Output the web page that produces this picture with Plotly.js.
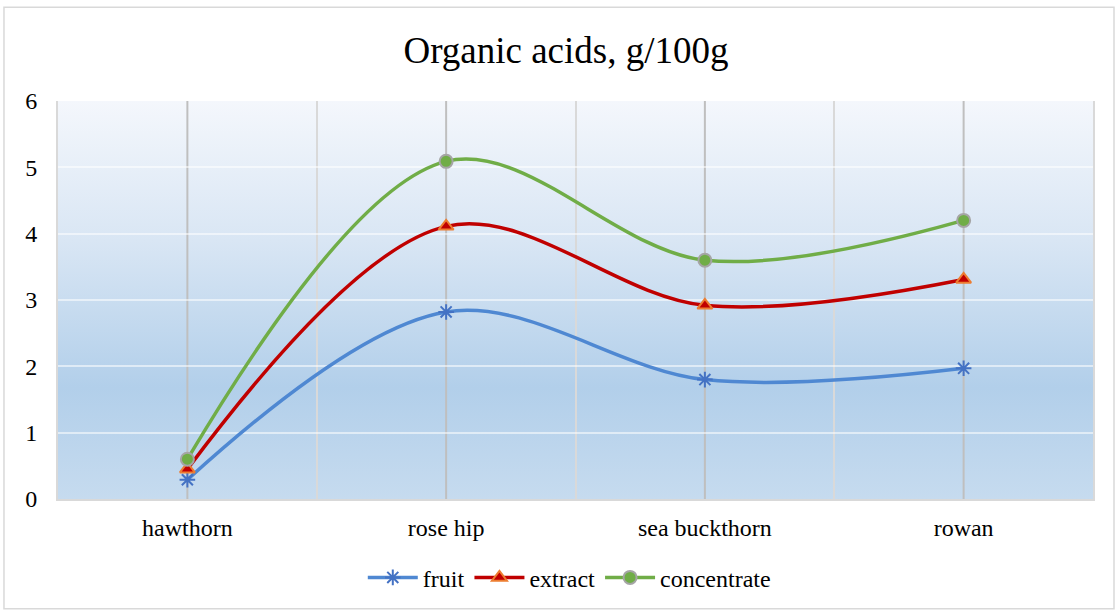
<!DOCTYPE html>
<html>
<head>
<meta charset="utf-8">
<script src="https://cdn.plot.ly/plotly-3.0.1.min.js"></script>
<style>
  html, body { margin: 0; padding: 0; background: #ffffff; }
  #chart { width: 1115px; height: 611px; }
</style>
</head>
<body>
<div id="chart"></div>
<script>
// Organic acid content per raw material, g/100g
const categories = ["hawthorn", "rose hip", "sea buckthorn", "rowan"];
const fruit       = [0.29, 2.82, 1.80, 1.97];
const extract     = [0.45, 4.11, 2.92, 3.31];
const concentrate = [0.60, 5.09, 3.60, 4.20];
const yTicks = [0, 1, 2, 3, 4, 5, 6];

const serif = "Liberation Serif, Times New Roman, serif";

// Vertical gradient used as the plot-area fill
const bgSvg =
  '<svg xmlns="http://www.w3.org/2000/svg" width="100" height="100" preserveAspectRatio="none">' +
  '<defs><linearGradient id="g" x1="0" y1="0" x2="0" y2="1">' +
  '<stop offset="0" stop-color="#f4f7fc"/>' +
  '<stop offset="0.35" stop-color="#d9e6f4"/>' +
  '<stop offset="0.72" stop-color="#b2cfea"/>' +
  '<stop offset="1" stop-color="#c6dbef"/>' +
  '</linearGradient></defs>' +
  '<rect width="100" height="100" fill="url(#g)"/></svg>';
const bgUri = "data:image/svg+xml;charset=utf-8," + encodeURIComponent(bgSvg);

const traces = [
  {
    name: "fruit", x: categories, y: fruit, type: "scatter", mode: "lines+markers",
    line: { color: "#4f88d2", width: 3.5, shape: "spline", smoothing: 1 },
    marker: { symbol: "asterisk-open", size: 13, color: "#4472c4",
              line: { color: "#4472c4", width: 2 } }
  },
  {
    name: "extract", x: categories, y: extract, type: "scatter", mode: "lines+markers",
    line: { color: "#c00000", width: 3.5, shape: "spline", smoothing: 1 },
    marker: { symbol: "triangle-up", size: 13, color: "#c00000",
              line: { color: "#ed7d31", width: 2 } }
  },
  {
    name: "concentrate", x: categories, y: concentrate, type: "scatter", mode: "lines+markers",
    line: { color: "#70ad47", width: 3.5, shape: "spline", smoothing: 1 },
    marker: { symbol: "circle", size: 13, color: "#70ad47",
              line: { color: "#a5a5a5", width: 2 } }
  }
];

// Darker vertical rules through each category centre
const centreLines = categories.map(c => ({
  type: "line", layer: "below", xref: "x", yref: "y domain",
  x0: c, x1: c, y0: 0, y1: 1,
  line: { color: "#bfbfbf", width: 2 }
}));

const layout = {
  width: 1115, height: 611,
  margin: { l: 58, r: 22, t: 101, b: 111 },
  paper_bgcolor: "#ffffff",
  plot_bgcolor: "rgba(0,0,0,0)",
  font: { family: serif, color: "#000000" },
  title: {
    text: "Organic acids, g/100g",
    font: { family: serif, size: 37, color: "#000000" },
    x: 0.5076, xref: "container", xanchor: "center",
    y: 0.918, yref: "container", yanchor: "middle"
  },
  xaxis: {
    type: "category",
    categoryorder: "array", categoryarray: categories,
    range: [-0.5, 3.5],
    tickson: "boundaries",
    showgrid: true, gridcolor: "#d9d9d9", gridwidth: 2,
    showline: true, linecolor: "#d9d9d9", linewidth: 2,
    ticks: "", ticklabelstandoff: 6,
    tickfont: { family: serif, size: 24, color: "#000000" },
    zeroline: false, fixedrange: true
  },
  yaxis: {
    range: [0, 6],
    tickvals: yTicks,
    ticktext: yTicks.map(String),
    showgrid: true, gridcolor: "rgba(255,255,255,0.55)", gridwidth: 2,
    showline: true, mirror: true, linecolor: "#d9d9d9", linewidth: 2,
    zeroline: false,
    ticks: "", ticklabelstandoff: 14,
    tickfont: { family: serif, size: 24, color: "#000000" },
    fixedrange: true
  },
  showlegend: true,
  legend: {
    orientation: "h",
    x: 0.494, xanchor: "center",
    y: -0.195, yanchor: "middle",
    font: { family: serif, size: 24, color: "#000000" },
    bgcolor: "rgba(0,0,0,0)",
    itemwidth: 50
  },
  images: [{
    // plot-area fill, placed beneath everything else in the subplot
    source: bgUri, layer: "below",
    xref: "paper", yref: "paper",
    x: 0, y: 1, sizex: 1, sizey: 1,
    xanchor: "left", yanchor: "top",
    sizing: "stretch"
  }],
  shapes: centreLines.concat([{
    // outer chart frame
    type: "rect", xref: "paper", yref: "paper", layer: "below",
    x0: -0.0522, x1: 1.0203, y0: -0.2757, y1: 1.2356,
    line: { color: "#d9d9d9", width: 1.5 }, fillcolor: "rgba(0,0,0,0)"
  }])
};

Plotly.newPlot("chart", traces, layout, { displayModeBar: false, staticPlot: true });
</script>
</body>
</html>
